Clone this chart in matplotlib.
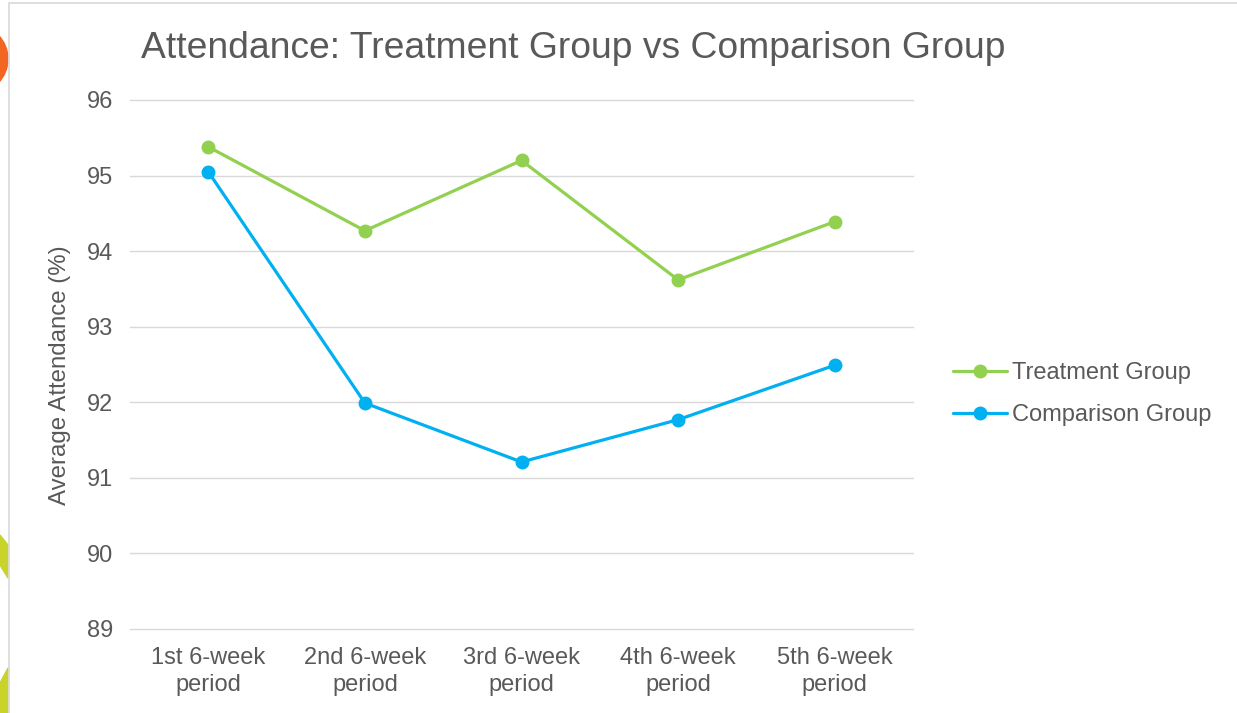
import matplotlib.pyplot as plt
from matplotlib.patches import Ellipse, Polygon, Rectangle

periods = ['1st 6-week\nperiod', '2nd 6-week\nperiod', '3rd 6-week\nperiod',
           '4th 6-week\nperiod', '5th 6-week\nperiod']
treatment = [95.38, 94.27, 95.20, 93.62, 94.39]
comparison = [95.05, 91.99, 91.21, 91.77, 92.49]
yticks = [89, 90, 91, 92, 93, 94, 95, 96]

green = '#92D050'
blue = '#00B0F0'
grey = '#595959'

plt.rcParams['font.family'] = ['Liberation Sans', 'DejaVu Sans']

W, H = 1237, 713
fig = plt.figure(figsize=(W / 100, H / 100), dpi=100)

# slide background bits on the left edge and the chart frame
fig.patches.append(Ellipse((-26 / W, 1 - 59 / H), 68 / W, 68 / H, transform=fig.transFigure,
                           color='#F26522', zorder=0))
fig.patches.append(Polygon([(0, 1 - 535 / H), (8 / W, 1 - 545 / H), (8 / W, 1 - 578 / H),
                            (0, 1 - 565 / H)], closed=True, transform=fig.transFigure,
                           color='#C8D42A', zorder=0))
fig.patches.append(Polygon([(0, 1 - 683 / H), (8 / W, 1 - 668 / H), (8 / W, 0), (0, 0)],
                           closed=True, transform=fig.transFigure, color='#C8D42A', zorder=0))
fig.patches.append(Rectangle((9 / W, -0.05), 1.1, 1 - 3 / H + 0.05, transform=fig.transFigure,
                             facecolor='white', edgecolor='#D9D9D9', linewidth=1.2, zorder=0))

ax = fig.add_axes([130 / W, 1 - 629 / H, 783 / W, 529 / H])
ax.set_zorder(2)
ax.patch.set_alpha(0)
x = range(len(periods))
ax.plot(x, treatment, color=green, lw=2.3, marker='o', ms=9, label='Treatment Group',
        solid_capstyle='round', zorder=3)
ax.plot(x, comparison, color=blue, lw=2.3, marker='o', ms=9, label='Comparison Group',
        solid_capstyle='round', zorder=3)

ax.set_xlim(-0.5, len(periods) - 0.5)
ax.set_ylim(89, 96)
ax.set_yticks(yticks)
ax.set_xticks(list(x))
ax.set_xticklabels(periods)
ax.grid(axis='y', color='#D9D9D9', lw=1.0)
for gl in ax.get_ygridlines():
    gl.set_clip_on(False)
ax.set_axisbelow(True)
for s in ax.spines.values():
    s.set_visible(False)
ax.tick_params(axis='both', length=0, labelsize=17, colors=grey)
ax.tick_params(axis='y', pad=12)
ax.tick_params(axis='x', pad=13)
for lab in ax.get_xticklabels():
    lab.set_linespacing(1.3)

t1 = fig.text(573 / W, 1 - 49 / H, 'Attendance: Treatment Group vs Comparison Group',
              fontsize=26.8, color=grey, ha='center', va='center')
t2 = fig.text(60 / W, 1 - 375 / H, 'Average Attendance (%)', fontsize=17.3, color=grey,
              rotation=90, ha='center', va='center')
for t in (t1, t2):
    t.set_zorder(3)

leg = fig.legend(loc='center left', bbox_to_anchor=(953 / W, 1 - 394 / H), frameon=False,
                 fontsize=17, labelcolor=grey, handlelength=2.3, handletextpad=0.2,
                 borderpad=0, borderaxespad=0, labelspacing=0.85)
leg.set_zorder(3)

fig.savefig('out.png', dpi=100)
